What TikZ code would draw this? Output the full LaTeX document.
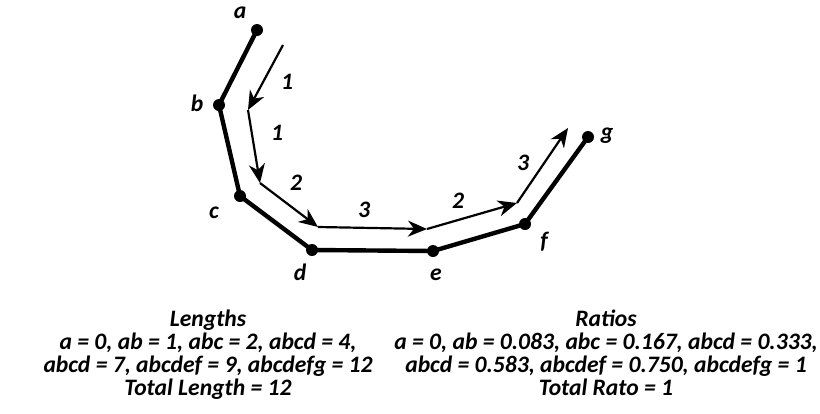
\documentclass[tikz,border=0pt]{standalone}
\usepackage{fontspec}
\setmainfont{Carlito}
\usetikzlibrary{arrows.meta}
\begin{document}
\begin{tikzpicture}[x=1pt,y=-1pt,
  every node/.style={font=\fontsize{23.6}{22.8}\selectfont\bfseries\itshape},
  curve/.style={line width=4.4pt,line join=round},
  vertex/.style={circle,fill=black,inner sep=0pt,minimum size=12pt},
  walk/.style={line width=2.2pt,-{Stealth[length=19pt,width=16pt,inset=6pt]}},
  lbl/.style={inner sep=0pt}]
\useasboundingbox (0,0) rectangle (820,413);
% polyline vertices
\coordinate (a) at (257,30);
\coordinate (b) at (219,105);
\coordinate (c) at (240,196);
\coordinate (d) at (312,250);
\coordinate (e) at (433,251);
\coordinate (f) at (525,224);
\coordinate (g) at (588,137);
\draw[curve] (a) -- (b) -- (c) -- (d) -- (e) -- (f) -- (g);
\foreach \p in {a,b,c,d,e,f,g} \node[vertex] at (\p) {};
% vertex names
\node[lbl] at (240,13) {a};
\node[lbl] at (197,103) {b};
\node[lbl] at (214,213) {c};
\node[lbl] at (300,272) {d};
\node[lbl] at (436,275) {e};
\node[lbl] at (544,242) {f};
\node[lbl] at (607,136) {g};
% traversal arrows
\coordinate (w0) at (283,45);
\coordinate (w1) at (248,110);
\coordinate (w2) at (260,183);
\coordinate (w3) at (318,227);
\coordinate (w4) at (427,229);
\coordinate (w5) at (517,203);
\coordinate (w6) at (568,128);
\draw[walk] (w0) -- (w1);
\draw[walk] (w1) -- (w2);
\draw[walk] (w2) -- (w3);
\draw[walk] (w3) -- (w4);
\draw[walk] (w4) -- (w5);
\draw[walk] (w5) -- (w6);
% segment lengths
\node[lbl] at (287,82) {1};
\node[lbl] at (277,133) {1};
\node[lbl] at (296,183) {2};
\node[lbl] at (364,210) {3};
\node[lbl] at (458,201) {2};
\node[lbl] at (523,163) {3};
% summaries
\node[align=center,inner sep=0pt,anchor=north] (len) at (208,310) {Lengths\\
a = 0, ab = 1, abc = 2, abcd = 4,\\
abcd = 7, abcdef = 9, abcdefg = 12\\
Total Length = 12};
\node[align=center,inner sep=0pt,anchor=north] (rat) at (606,310) {Ratios\\
a = 0, ab = 0.083, abc = 0.167, abcd = 0.333,\\
abcd = 0.583, abcdef = 0.750, abcdefg = 1\\
Total Rato = 1};
\end{tikzpicture}
\end{document}
